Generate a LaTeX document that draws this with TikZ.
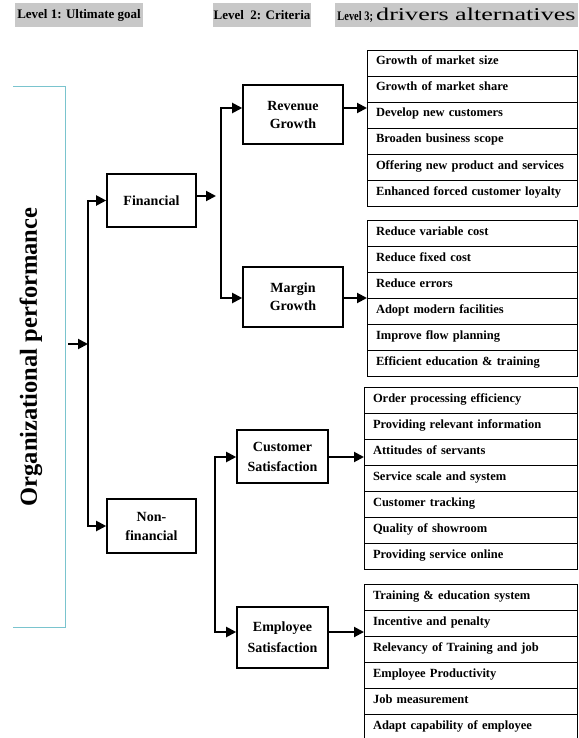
\documentclass[tikz,border=0pt]{standalone}
\usepackage{fontspec}
\setmainfont{Liberation Serif}
\usepackage{graphicx}
\usetikzlibrary{arrows.meta,positioning,calc}
\definecolor{hdrgray}{RGB}{200,200,200}
\definecolor{brackcol}{RGB}{122,196,206}
\tikzset{
  hdr/.style={fill=hdrgray,minimum height=24pt,inner sep=0pt,font=\bfseries\fontsize{13}{15}\selectfont},
  crit/.style={draw,line width=1.6pt,align=center,inner sep=0pt,font=\bfseries\fontsize{14}{19}\selectfont},
  drv/.style={draw,line width=0.9pt,anchor=north west,outer sep=0pt,minimum height=26pt,inner xsep=9pt,inner ysep=0pt,text height=9pt,text depth=5pt,text width=#1,align=left,font=\bfseries\fontsize{12.5}{14}\selectfont},
  drv/.default=192pt,
  arr/.style={line width=2pt,-{Triangle[length=10pt,width=10pt]}},
  biarr/.style={line width=2pt,{Triangle[length=10pt,width=10pt]}-{Triangle[length=10pt,width=10pt]}}
}
\begin{document}
\begin{tikzpicture}[x=1pt,y=-1pt]
\useasboundingbox (0,0) rectangle (578,738);
\clip (0,0) rectangle (578,738);
\node[hdr,minimum width=128pt] (l1) at (79,15) {Level 1: Ultimate goal};
\node[hdr,minimum width=98pt] (l2) at (262,15) {Level\ \ 2: Criteria};
\node[hdr,minimum width=243pt] (l3) at (456.5,15) {\scalebox{0.8}[1]{Level 3;} {\mdseries\fontsize{18}{18}\selectfont\scalebox{1.45}[1]{drivers alternatives}}};
\draw[brackcol,line width=0.8pt] (13,86) -- (65,86) -- (65,627) -- (13,627);
\node[rotate=90,font=\bfseries\fontsize{24.5}{28}\selectfont] (goal) at (31,357) {Organizational performance};
\node[crit,minimum width=89pt,minimum height=53pt] (fin) at (151.5,200.5) {Financial};
\node[crit,minimum width=89pt,minimum height=54pt] (nonfin) at (151.5,526) {Non-\\financial};
\node[crit,minimum width=100pt,minimum height=59pt,font=\bfseries\fontsize{14}{18}\selectfont] (rev) at (293,114.5) {Revenue\\Growth};
\node[crit,minimum width=100pt,minimum height=60pt,font=\bfseries\fontsize{14}{18}\selectfont] (mar) at (293,297) {Margin\\Growth};
\node[crit,minimum width=91pt,minimum height=53pt,font=\bfseries\fontsize{14}{20}\selectfont] (cust) at (282.5,456.5) {Customer\\Satisfaction};
\node[crit,minimum width=91pt,minimum height=61pt,font=\bfseries\fontsize{14}{21}\selectfont] (emp) at (282.5,637.5) {Employee\\Satisfaction};
\coordinate (g) at (68,344);
\coordinate (j1) at (88,344);
\draw[arr] (g) -- (j1);
\draw[biarr] (fin.west) -- (fin.west -| j1) -- (nonfin.west -| j1) -- (nonfin.west);
\coordinate (f) at (216,196);
\draw[arr] (fin.east |- f) -- (f);
\coordinate (j2) at (221,108);
\coordinate (j3) at (221,298);
\draw[biarr] (j2 -| rev.west) -- (j2) -- (j3) -- (j3 -| mar.west);
\coordinate (j4) at (215,457);
\coordinate (j5) at (215,632);
\draw[biarr] (j4 -| cust.west) -- (j4) -- (j5) -- (j5 -| emp.west);
\node[drv] (rg1) at (367,50) {Growth of market size};
\node[drv] (rg2) at (rg1.south west) {Growth of market share};
\node[drv] (rg3) at (rg2.south west) {Develop new customers};
\node[drv] (rg4) at (rg3.south west) {Broaden business scope};
\node[drv] (rg5) at (rg4.south west) {Offering new product and services};
\node[drv] (rg6) at (rg5.south west) {Enhanced forced customer loyalty};
\node[drv] (mg1) at (367,220) {Reduce variable cost};
\node[drv] (mg2) at (mg1.south west) {Reduce fixed cost};
\node[drv] (mg3) at (mg2.south west) {Reduce errors};
\node[drv] (mg4) at (mg3.south west) {Adopt modern facilities};
\node[drv] (mg5) at (mg4.south west) {Improve flow planning};
\node[drv] (mg6) at (mg5.south west) {Efficient education \& training};
\node[drv=195pt] (cs1) at (364,387) {Order processing efficiency};
\node[drv=195pt] (cs2) at (cs1.south west) {Providing relevant information};
\node[drv=195pt] (cs3) at (cs2.south west) {Attitudes of servants};
\node[drv=195pt] (cs4) at (cs3.south west) {Service scale and system};
\node[drv=195pt] (cs5) at (cs4.south west) {Customer tracking};
\node[drv=195pt] (cs6) at (cs5.south west) {Quality of showroom};
\node[drv=195pt] (cs7) at (cs6.south west) {Providing service online};
\node[drv=195pt] (es1) at (364,584) {Training \& education system};
\node[drv=195pt] (es2) at (es1.south west) {Incentive and penalty};
\node[drv=195pt] (es3) at (es2.south west) {Relevancy of Training and job};
\node[drv=195pt] (es4) at (es3.south west) {Employee Productivity};
\node[drv=195pt] (es5) at (es4.south west) {Job measurement};
\node[drv=195pt] (es6) at (es5.south west) {Adapt capability of employee};
\draw[arr] (rev.east |- j2) -- (j2 -| rg1.west);
\draw[arr] (mar.east |- j3) -- (j3 -| mg1.west);
\draw[arr] (cust.east |- j4) -- (j4 -| cs1.west);
\draw[arr] (emp.east |- j5) -- (j5 -| es1.west);
\end{tikzpicture}
\end{document}
